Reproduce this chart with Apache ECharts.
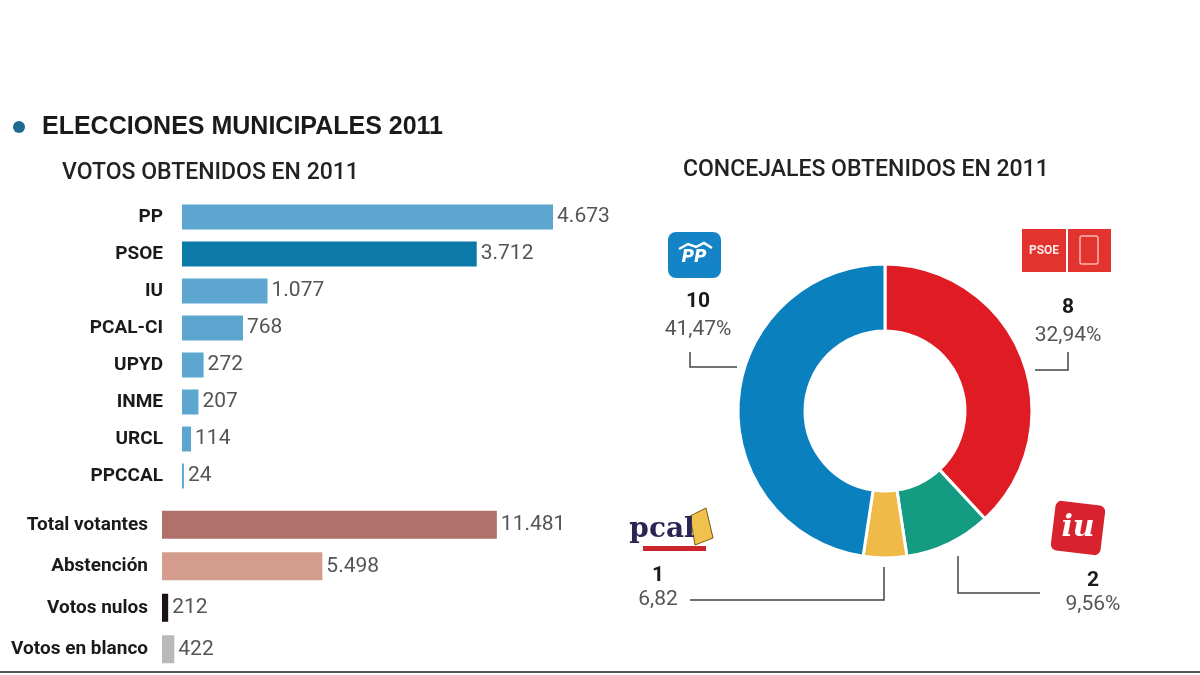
<!DOCTYPE html>
<html>
<head>
<meta charset="utf-8">
<script src="https://cdn.jsdelivr.net/npm/echarts@6/dist/echarts.min.js"></script>
<style>
html,body{margin:0;padding:0;background:#fff;}
#c{width:1200px;height:675px;}
</style>
</head>
<body>
<div id="c"></div>
<script>
// ---- data ----
const partidos = ['PP', 'PSOE', 'IU', 'PCAL-CI', 'UPYD', 'INME', 'URCL', 'PPCCAL'];
const votos = [4673, 3712, 1077, 768, 272, 207, 114, 24];
const resumenCat = ['Total votantes', 'Abstención', 'Votos nulos', 'Votos en blanco'];
const resumenVal = [11481, 5498, 212, 422];
const concejalesPartidos = ['PSOE', 'IU', 'PCAL', 'PP'];
const concejales = [8, 2, 1, 10];
const porcentajes = ['32,94%', '9,56%', '6,82', '41,47%'];

// ---- styles ----
const partidoColors = ['#5da6d0', '#0b7aa9', '#5da6d0', '#5da6d0', '#5da6d0', '#5da6d0', '#5da6d0', '#5da6d0'];
const resumenColors = ['#b0716a', '#d39c8d', '#1b1212', '#b9b9b9'];
const pieColors = { 'PSOE': '#df1c24', 'IU': '#169b83', 'PCAL': '#efba48', 'PP': '#0b80bf' };
const FONT = "Roboto, 'Liberation Sans', sans-serif";

function fmt(v) { return String(v).replace(/\B(?=(\d{3})+(?!\d))/g, '.'); }

const chart = echarts.init(document.getElementById('c'), null, { renderer: 'canvas' });

const catAxisBase = {
  type: 'category', inverse: true,
  axisLine: { show: false }, axisTick: { show: false }, splitLine: { show: false },
  axisLabel: { fontFamily: FONT, fontWeight: 'bold', fontSize: 19, color: '#1a1a1a' }
};
const valLabel = {
  show: true, position: 'right', distance: 4, fontFamily: FONT, fontSize: 21, color: '#555',
  formatter: p => fmt(p.value)
};

// label annotations for donut (positions are layout)
const pieLabelPos = {
  'PP':   { x: 698, y1: 302, y2: 330, line: [[690, 352], [690, 367], [737, 367]] },
  'PSOE': { x: 1068, y1: 308, y2: 336, line: [[1068, 352], [1068, 370], [1035, 370]] },
  'PCAL': { x: 658, y1: 576, y2: 600, line: [[690, 600], [884, 600], [884, 567]] },
  'IU':   { x: 1093, y1: 581, y2: 605, line: [[1040, 593], [958, 593], [958, 556]] }
};
const pieGraphics = [];
concejalesPartidos.forEach((name, i) => {
  const p = pieLabelPos[name];
  pieGraphics.push({
    type: 'text', x: p.x, y: p.y1,
    style: { text: String(concejales[i]), fontFamily: FONT, fontWeight: 'bold', fontSize: 21, fill: '#1a1a1a', align: 'center', verticalAlign: 'middle' }
  });
  pieGraphics.push({
    type: 'text', x: p.x, y: p.y2,
    style: { text: porcentajes[i], fontFamily: FONT, fontSize: 21, fill: '#555', align: 'center', verticalAlign: 'middle' }
  });
  pieGraphics.push({
    type: 'polyline', shape: { points: p.line },
    style: { stroke: '#444', lineWidth: 1.5, fill: null }
  });
});

// logos
const logos = [
  // PP
  { type: 'rect', shape: { x: 668, y: 232, width: 53, height: 46, r: 8 }, style: { fill: '#1584c6' } },
  { type: 'text', x: 694, y: 258, style: { text: 'PP', fontFamily: 'DejaVu Sans', fontStyle: 'italic', fontWeight: 'bold', fontSize: 17, fill: '#fff', align: 'center', verticalAlign: 'middle' } },
  { type: 'polyline', shape: { points: [[679, 249], [688, 244], [696, 247], [704, 243], [712, 248]] }, style: { stroke: '#fff', lineWidth: 2.5, fill: null } },
  // PSOE
  { type: 'rect', shape: { x: 1022, y: 229, width: 44, height: 43 }, style: { fill: '#e3332e' } },
  { type: 'rect', shape: { x: 1068, y: 229, width: 43, height: 43 }, style: { fill: '#e3332e' } },
  { type: 'text', x: 1044, y: 251, style: { text: 'PSOE', fontFamily: FONT, fontWeight: 'bold', fontSize: 12, fill: '#fde9e6', align: 'center', verticalAlign: 'middle' } },
  { type: 'rect', shape: { x: 1080, y: 236, width: 18, height: 28, r: 2 }, style: { fill: null, stroke: '#f7b8b0', lineWidth: 1.5 } },
  // PCAL
  { type: 'polygon', shape: { points: [[690, 516], [706, 508], [713, 538], [695, 545]] }, style: { fill: '#f1c14e', stroke: '#7a5a10', lineWidth: 1 } },
  { type: 'text', x: 662, y: 530, style: { text: 'pcal', fontFamily: "'DejaVu Serif', serif", fontWeight: 'bold', fontSize: 28, fill: '#2c2452', align: 'center', verticalAlign: 'middle' } },
  { type: 'rect', shape: { x: 643, y: 546, width: 63, height: 5 }, style: { fill: '#c9252b' } },
  // IU
  { type: 'rect', shape: { x: 1053, y: 503, width: 50, height: 50, r: 6 }, rotation: -0.12, originX: 1078, originY: 528, style: { fill: '#d8222d' } },
  { type: 'text', x: 1078, y: 528, style: { text: 'iu', fontFamily: "'DejaVu Serif', serif", fontStyle: 'italic', fontWeight: 'bold', fontSize: 30, fill: '#fff', align: 'center', verticalAlign: 'middle' } }
];

const option = {
  backgroundColor: '#fff',
  animation: false,
  grid: [
    { left: 182, top: 198.5, width: 397, height: 296, outerBoundsMode: 'none', containLabel: false },
    { left: 162, top: 504, width: 350, height: 166, outerBoundsMode: 'none', containLabel: false }
  ],
  xAxis: [
    { type: 'value', gridIndex: 0, min: 0, max: 5000, show: false },
    { type: 'value', gridIndex: 1, min: 0, max: 12000, show: false }
  ],
  yAxis: [
    Object.assign({}, catAxisBase, { gridIndex: 0, data: partidos, axisLabel: Object.assign({}, catAxisBase.axisLabel, { margin: 19 }) }),
    Object.assign({}, catAxisBase, { gridIndex: 1, data: resumenCat, axisLabel: Object.assign({}, catAxisBase.axisLabel, { margin: 14 }) })
  ],
  series: [
    {
      type: 'bar', xAxisIndex: 0, yAxisIndex: 0, barWidth: 25, silent: true,
      data: votos.map((v, i) => ({ value: v, itemStyle: { color: partidoColors[i] } })),
      label: valLabel
    },
    {
      type: 'bar', xAxisIndex: 1, yAxisIndex: 1, barWidth: 28, silent: true,
      data: resumenVal.map((v, i) => ({ value: v, itemStyle: { color: resumenColors[i] } })),
      label: valLabel
    },
    {
      type: 'pie', center: [885, 411], radius: [80, 147], startAngle: 90, clockwise: true, silent: true,
      label: { show: false }, labelLine: { show: false },
      itemStyle: { borderColor: '#fff', borderWidth: 3 },
      data: concejalesPartidos.map((n, i) => ({ name: n, value: concejales[i], itemStyle: { color: pieColors[n] } }))
    }
  ],
  graphic: [
    { type: 'circle', shape: { cx: 19, cy: 127, r: 6 }, style: { fill: '#1d6a90' } },
    { type: 'text', x: 42, y: 127, style: { text: 'ELECCIONES MUNICIPALES 2011', fontFamily: "'Liberation Sans', sans-serif", fontWeight: 'bold', fontSize: 25, fill: '#1a1a1a', verticalAlign: 'middle' } },
    { type: 'text', x: 62, y: 173, style: { text: 'VOTOS OBTENIDOS EN 2011', fontFamily: 'Roboto', fontWeight: 500, fontSize: 23, fill: '#222', verticalAlign: 'middle' } },
    { type: 'text', x: 683, y: 170, style: { text: 'CONCEJALES OBTENIDOS EN 2011', fontFamily: 'Roboto', fontWeight: 500, fontSize: 23, fill: '#222', verticalAlign: 'middle' } },
    { type: 'line', shape: { x1: 0, y1: 672, x2: 1200, y2: 672 }, style: { stroke: '#555', lineWidth: 2 } }
  ].concat(pieGraphics).concat(logos)
};
chart.setOption(option);
</script>
</body>
</html>
